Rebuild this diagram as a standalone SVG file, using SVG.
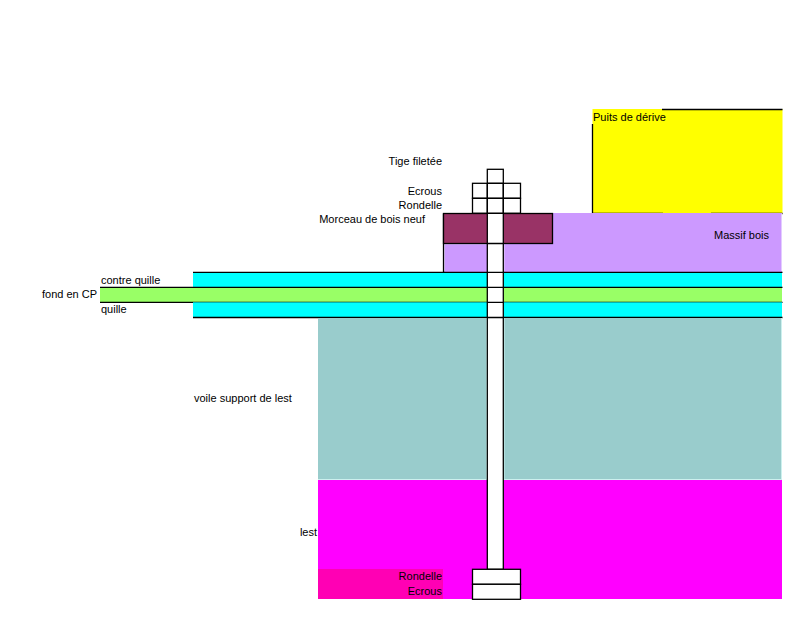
<svg xmlns="http://www.w3.org/2000/svg" width="812" height="622" viewBox="0 0 812 622">
<style>
text{font-family:"Liberation Sans",Arial,sans-serif;font-size:11px;fill:#000}
.e{text-anchor:end}
.k{stroke:#000;stroke-width:1.3;fill:none}
.w{fill:#fff;stroke:#000;stroke-width:1.3}
</style>
<rect width="812" height="622" fill="#fff"/>
<g id="puits"><rect x="592.500" y="109" width="190" height="104.500" fill="#ff0"/>
<path class="k" d="M662 109.500H782.500M592.500 124V213.500H663M711 213.500H782.500"/>
<text x="593" y="121">Puits de dérive</text></g>
<g id="massif"><rect x="443.500" y="213" width="338.500" height="59" fill="#c9f"/>
<path d="M444.500 271V244H486.500M504 271V244M781.500 214V271" fill="none" stroke="#e3ccff" stroke-width="1"/>
<path class="k" d="M443.500 213.500V272"/>
<text x="769" y="239" class="e">Massif bois</text></g>
<g id="morceau"><rect x="443.500" y="213.500" width="109" height="30" class="k" style="fill:#936"/>
<text x="425" y="223" class="e">Morceau de bois neuf</text></g>
<g id="contre-quille"><rect x="193" y="272.300" width="589" height="15" fill="#0ff"/><path class="k" d="M193 272.300H782.500"/>
<text x="101" y="284">contre quille</text></g>
<g id="fond"><rect x="100" y="287.300" width="682" height="15" fill="#9f6"/><path class="k" d="M100 287.300H782.500M100 302.300H782.500"/>
<text x="97" y="298" class="e">fond en CP</text></g>
<g id="quille"><rect x="193" y="302.300" width="589" height="15" fill="#0ff"/><path class="k" d="M193 317.500H782.500"/>
<text x="101" y="313">quille</text></g>
<g id="voile"><rect x="318" y="318" width="464" height="162" fill="#9cc"/>
<path d="M486.500 318V480M504 318V480M318 479.500H782M781.500 318V480" fill="none" stroke="#ccf0ee" stroke-width="1"/>
<text x="194" y="402">voile support de lest</text></g>
<g id="lest"><rect x="318" y="480" width="464" height="119" fill="#f0f"/>
<rect x="318" y="569" width="125" height="30" fill="#ff00b4"/>
<text x="317" y="536" class="e">lest</text></g>
<g id="tige">
<rect x="487.300" y="169.300" width="16" height="400" class="w"/>
<path class="k" d="M487.300 183.300H503.300M487.300 213.300H503.300M487.300 243.500H503.300M487.300 272.300H503.300M487.300 287.300H503.300M487.300 302.300H503.300M487.300 317.500H503.300"/>
<text x="442" y="165" class="e">Tige filetée</text></g>
<g id="ecrous-haut">
<rect x="472.500" y="183.300" width="48" height="15" class="k"/>
<rect x="472.500" y="198.300" width="48" height="15" class="k"/>
<path class="k" d="M487.300 183.300V213.300M503.300 183.300V213.300"/>
<text x="442" y="195" class="e">Ecrous</text>
<text x="442" y="209" class="e">Rondelle</text></g>
<g id="ecrous-bas">
<rect x="472.500" y="569.300" width="48" height="15" class="w"/>
<rect x="472.500" y="584.300" width="48" height="15" class="w"/>
<text x="442" y="580" class="e">Rondelle</text>
<text x="442" y="595" class="e">Ecrous</text></g>
<g id="connectors"></g>
</svg>
